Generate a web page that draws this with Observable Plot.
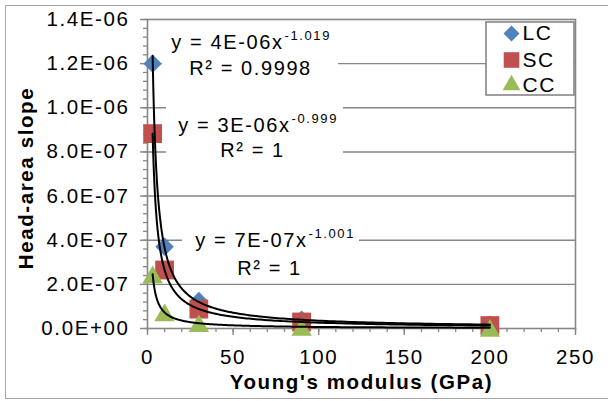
<!DOCTYPE html>
<html><head><meta charset="utf-8">
<script src="https://cdn.jsdelivr.net/npm/d3@7"></script>
<script src="https://cdn.jsdelivr.net/npm/@observablehq/plot@0.6"></script>
<style>
body{margin:0;background:#fff}
#wrap{position:relative;width:608px;height:401px;overflow:hidden;background:#fff}
#border{position:absolute;left:5px;top:5px;width:640px;height:394px;border:1.5px solid #a6a6a6;box-sizing:border-box;pointer-events:none}
</style>
</head><body>
<div id="wrap"><div id="border"></div></div>
<script>
// ---- data ----
const modulus = [3, 10, 30, 90, 200];           // Young's modulus (GPa)
const seriesNames = ["LC", "SC", "CC"];
const lcSlope = [1.2e-6, 3.7e-7, 1.25e-7, 4.0e-8, 1.7e-8];
const scSlope = [8.83e-7, 2.65e-7, 8.8e-8, 2.95e-8, 1.33e-8];
const ccSlope = [2.45e-7, 7.3e-8, 2.4e-8, 7.8e-9, 3.5e-9];
const eqMain = ["y = 4E-06x", "y = 3E-06x", "y = 7E-07x"];
const eqExp = ["-1.019", "-0.999", "-1.001"];
const eqR2 = ["R² = 0.9998", "R² = 1", "R² = 1"];
const yTicks = [0, 2e-7, 4e-7, 6e-7, 8e-7, 1.0e-6, 1.2e-6, 1.4e-6];
const xTicks = [0, 50, 100, 150, 200, 250];

// ---- styles / layout ----
const colors = {LC: "#4F81BD", SC: "#C0504D", CC: "#9BBB59"};
const symbols = {LC: "diamond2", SC: "square", CC: "triangle"};
const W = 608, H = 401, ML = 147, MR = 33, MT = 19, MB = 73;
const XMAX = 250, YMAX = 1.4e-6;
const xOf = p => (p - ML) / (W - ML - MR) * XMAX;
const yOf = p => (H - MB - p) / (H - MT - MB) * YMAX;

const series = [lcSlope, scSlope, ccSlope];
const points = [];
series.forEach((vals, i) => vals.forEach((v, j) => points.push({series: seriesNames[i], x: modulus[j], y: v})));

// power-law trendlines from log-log least squares on the data
const trend = [];
series.forEach((vals, i) => {
  const lx = modulus.map(Math.log), ly = vals.map(Math.log);
  const mx = d3.mean(lx), my = d3.mean(ly);
  const b = d3.sum(lx.map((v, k) => (v - mx) * (ly[k] - my))) / d3.sum(lx.map(v => (v - mx) ** 2));
  const a = Math.exp(my - b * mx);
  const lo = Math.log(d3.min(modulus)), hi = Math.log(d3.max(modulus));
  for (let k = 0; k <= 200; k++) {
    const x = Math.exp(lo + (hi - lo) * k / 200);
    trend.push({series: seriesNames[i], x, y: a * Math.pow(x, b)});
  }
});

const yMinor = d3.range(0, 36).map(k => k * 4e-8).filter(v => v <= YMAX + 1e-12);
const xMinor = d3.range(0, 26).map(k => k * 10);

function fmt(d) {
  const s = d.toExponential(1);
  const [m, e] = s.split("e");
  const sign = e[0] === "-" ? "-" : "+";
  return m + "E" + sign + e.replace(/[+-]/, "").padStart(2, "0");
}

// label layout (pixel positions converted to data units)
const labels = [
  {eqEnd: 283, eqY: 42, r2X: 250, r2Y: 68, bx1: 162, bx2: 338, by1: 28, by2: 80},
  {eqEnd: 290, eqY: 125, r2X: 252, r2Y: 150, bx1: 166, bx2: 343, by1: 101, by2: 163},
  {eqEnd: 307, eqY: 240, r2X: 269, r2Y: 268, bx1: 182, bx2: 359, by1: 227, by2: 281}
].map((l, i) => ({
  main: eqMain[i], exp: eqExp[i], r2: eqR2[i],
  ex: xOf(l.eqEnd), ey: yOf(l.eqY), rx: xOf(l.r2X), ry: yOf(l.r2Y),
  x1: xOf(l.bx1), x2: xOf(l.bx2), y1: yOf(l.by1), y2: yOf(l.by2)
}));

const legendRows = seriesNames.map((s, i) => ({series: s, mx: xOf(511), tx: xOf(522), y: yOf([33, 59.5, 84.5][i])}));
const legendBox = [{x1: xOf(486), x2: xOf(574), y1: yOf(22), y2: yOf(95)}];

const gray = "#868686";
const chart = Plot.plot({
  width: W, height: H,
  marginLeft: ML, marginRight: MR, marginTop: MT, marginBottom: MB,
  x: {domain: [0, XMAX]},
  y: {domain: [0, YMAX]},
  style: {fontFamily: "'Liberation Sans', Arial, sans-serif", fontSize: "20.5px", letterSpacing: "1.6px", background: "transparent", overflow: "visible"},
  marks: [
    Plot.ruleY(yTicks.slice(1, -1), {stroke: gray, strokeWidth: 1.4}),
    Plot.frame({stroke: gray, strokeWidth: 1.6}),
    Plot.axisY({ticks: yMinor, tickSize: 4, tickFormat: () => "", stroke: gray, strokeWidth: 1.3, label: null}),
    Plot.axisY({ticks: yTicks, tickSize: 7, tickPadding: 11, tickFormat: fmt, stroke: gray, strokeWidth: 1.4, fill: "black", label: null}),
    Plot.axisX({ticks: xMinor, tickSize: 4, tickFormat: () => "", stroke: gray, strokeWidth: 1.3, label: null}),
    Plot.axisX({ticks: xTicks, tickSize: 7, tickPadding: 14, stroke: gray, strokeWidth: 1.4, fill: "black", label: null}),
    Plot.dot(points.filter(d => d.series === "LC"), {x: "x", y: "y", symbol: () => "diamond2", fill: colors.LC, stroke: "none", r: 8.3}),
    Plot.dot(points.filter(d => d.series === "SC"), {x: "x", y: "y", symbol: () => "square", fill: colors.SC, stroke: "none", r: 10.6}),
    Plot.dot(points.filter(d => d.series === "CC"), {x: "x", y: "y", symbol: () => "triangle", fill: colors.CC, stroke: "none", r: 7.6, dy: 3}),
    Plot.line(trend, {x: "x", y: "y", z: "series", stroke: "black", strokeWidth: 2}),
    Plot.rect(labels, {x1: "x1", x2: "x2", y1: "y1", y2: "y2", fill: "white"}),
    Plot.text(labels, {x: "ex", y: "ey", text: "main", textAnchor: "end", fontSize: 20, fill: "black", ariaLabel: "eqmain"}),
    Plot.text(labels, {x: "ex", y: "ey", text: "exp", textAnchor: "start", fontSize: 13, dx: 1, dy: -7, fill: "black", ariaLabel: "eqexp"}),
    Plot.text(labels, {x: "rx", y: "ry", text: "r2", textAnchor: "middle", fontSize: 20, fill: "black", ariaLabel: "eqr2"}),
    Plot.rect(legendBox, {x1: "x1", x2: "x2", y1: "y1", y2: "y2", fill: "white", stroke: gray, strokeWidth: 1.6}),
    Plot.dot(legendRows, {x: "mx", y: "y", symbol: d => symbols[d.series], fill: d => colors[d.series], stroke: "none",
      r: d => d.series === "LC" ? 7.2 : d.series === "SC" ? 8.8 : 6.6}),
    Plot.text(legendRows, {x: "tx", y: "y", text: "series", textAnchor: "start", fontSize: 21, fill: "black", ariaLabel: "legendtext"}),
    Plot.text(["Young's modulus (GPa)"], {frameAnchor: "bottom", textAnchor: "middle", lineAnchor: "middle", dy: 53.5, fontSize: 20.5, fontWeight: "bold", fill: "black", ariaLabel: "xtitle"}),
    Plot.text(["Head-area slope"], {frameAnchor: "left", textAnchor: "middle", lineAnchor: "middle", dx: -121, dy: 4, rotate: -90, fontSize: 20.5, fontWeight: "bold", fill: "black", ariaLabel: "ytitle"})
  ],
  symbol: {type: "identity"},
  r: {type: "identity"}
});
document.getElementById("wrap").prepend(chart);
chart.style.position = "absolute"; chart.style.left = "0"; chart.style.top = "0";
const ls = (label, v) => chart.querySelectorAll(`g[aria-label="${label}"] text`).forEach(t => t.style.letterSpacing = v);
ls("eqmain", "1.7px");
ls("eqr2", "2.3px");
ls("eqexp", "1.0px");
ls("legendtext", "1.0px");
ls("ytitle", "2.0px");
ls("xtitle", "1.75px");
</script>
</body></html>
